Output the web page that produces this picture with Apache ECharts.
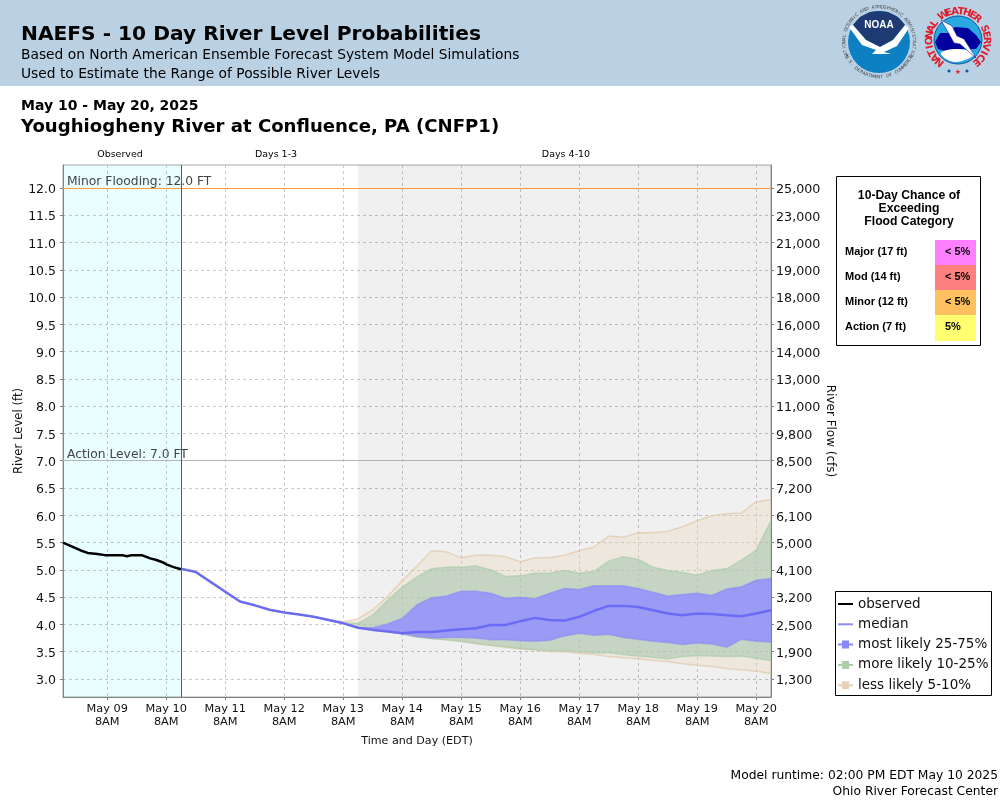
<!DOCTYPE html>
<html>
<head>
<meta charset="utf-8">
<style>html,body{margin:0;padding:0;background:#fff}#chart{width:1000px;height:800px}</style>
<script src="https://cdn.jsdelivr.net/npm/echarts@6/dist/echarts.min.js"></script>
</head>
<body>
<div id="chart"></div>
<script>
var FONT = '"DejaVu Sans"';

// x positions are hours counted from May 8 00:00 EDT
// observed stage
var obsHours = [14, 17.5, 21, 24, 28, 31, 34, 38, 40, 42, 46, 49.5, 52, 55, 56, 59, 62];
var obsStage = [5.50, 5.43, 5.36, 5.31, 5.29, 5.27, 5.27, 5.27, 5.25, 5.27, 5.27, 5.21, 5.18, 5.13, 5.10, 5.05, 5.01];

// forecast, every 6 hours from May 10 2PM
var median = [5.02, 4.96, 4.78, 4.60, 4.42, 4.35, 4.27, 4.22, 4.18, 4.14, 4.08, 4.02,
  3.94, 3.90, 3.87, 3.84, 3.86, 3.86, 3.89, 3.91, 3.93, 3.99, 3.99, 4.06, 4.12, 4.08, 4.07,
  4.14, 4.25, 4.34, 4.34, 4.32, 4.26, 4.20, 4.17, 4.20, 4.19, 4.17, 4.15, 4.20, 4.26];
var p75 = [5.02, 4.96, 4.78, 4.60, 4.42, 4.35, 4.27, 4.22, 4.18, 4.14, 4.08, 4.02,
  3.94, 3.94, 4.01, 4.11, 4.36, 4.49, 4.52, 4.61, 4.61, 4.57, 4.48, 4.50, 4.47, 4.57, 4.66,
  4.64, 4.71, 4.71, 4.71, 4.66, 4.59, 4.52, 4.55, 4.57, 4.53, 4.65, 4.69, 4.81, 4.84];
var p25 = [5.02, 4.96, 4.78, 4.60, 4.42, 4.35, 4.27, 4.22, 4.18, 4.14, 4.08, 4.02,
  3.94, 3.90, 3.87, 3.83, 3.78, 3.75, 3.76, 3.76, 3.75, 3.72, 3.72, 3.70, 3.69, 3.71, 3.79,
  3.84, 3.80, 3.82, 3.76, 3.73, 3.69, 3.67, 3.63, 3.66, 3.64, 3.58, 3.73, 3.69, 3.68];
var p90 = [5.02, 4.96, 4.78, 4.60, 4.42, 4.35, 4.27, 4.22, 4.18, 4.14, 4.08, 4.03,
  4.02, 4.17, 4.44, 4.68, 4.87, 5.02, 5.05, 5.05, 5.07, 5.00, 4.88, 4.89, 4.94, 4.94, 4.99,
  4.94, 4.97, 5.16, 5.24, 5.19, 5.05, 4.99, 4.95, 4.90, 4.99, 5.02, 5.18, 5.36, 5.90];
var p10 = [5.02, 4.96, 4.78, 4.60, 4.42, 4.35, 4.27, 4.22, 4.18, 4.14, 4.08, 4.02,
  3.94, 3.90, 3.87, 3.83, 3.77, 3.74, 3.72, 3.69, 3.65, 3.62, 3.59, 3.56, 3.54, 3.52, 3.52,
  3.50, 3.48, 3.48, 3.45, 3.42, 3.40, 3.37, 3.41, 3.43, 3.42, 3.41, 3.42, 3.38, 3.34];
var p95 = [5.02, 4.96, 4.78, 4.60, 4.42, 4.35, 4.27, 4.22, 4.18, 4.14, 4.09, 4.05,
  4.10, 4.27, 4.51, 4.80, 5.07, 5.35, 5.33, 5.22, 5.27, 5.27, 5.24, 5.15, 5.22, 5.22, 5.27,
  5.35, 5.42, 5.62, 5.60, 5.68, 5.68, 5.71, 5.79, 5.90, 5.99, 6.03, 6.04, 6.25, 6.29];
var p5 = [5.02, 4.96, 4.78, 4.60, 4.42, 4.35, 4.27, 4.22, 4.18, 4.14, 4.08, 4.02,
  3.94, 3.90, 3.87, 3.83, 3.77, 3.74, 3.72, 3.69, 3.65, 3.62, 3.58, 3.55, 3.53, 3.50, 3.50,
  3.47, 3.45, 3.41, 3.39, 3.37, 3.34, 3.32, 3.28, 3.25, 3.23, 3.19, 3.17, 3.14, 3.10];

// stage ticks and the matching flow labels on the right axis
var stageTicks = [3.0, 3.5, 4.0, 4.5, 5.0, 5.5, 6.0, 6.5, 7.0, 7.5, 8.0, 8.5, 9.0, 9.5, 10.0, 10.5, 11.0, 11.5, 12.0];
var flowLabels = ['1,300', '1,900', '2,500', '3,200', '4,100', '5,000', '6,100', '7,200', '8,500', '9,800',
  '11,000', '13,000', '14,000', '16,000', '18,000', '19,000', '21,000', '23,000', '25,000'];

// flood category box
var floodNames = ['Major (17 ft)', 'Mod (14 ft)', 'Minor (12 ft)', 'Action (7 ft)'];
var floodChance = ['< 5%', '< 5%', '< 5%', '5%'];
var floodColors = ['#ff80ff', '#ff8080', '#ffc060', '#ffff70'];

var days = ['May 09', 'May 10', 'May 11', 'May 12', 'May 13', 'May 14', 'May 15', 'May 16', 'May 17', 'May 18', 'May 19', 'May 20'];

var fcTime = median.map(function (v, i) { return 62 + i * 6; });
var xMin = 14, xMax = 302;
var dayTicks = days.map(function (d, i) { return 32 + 24 * i; });

function pairs(arr) {
  return arr.map(function (v, i) { return [fcTime[i], v]; });
}

// one band = a custom polygon between lo and hi, plus a line on each edge
function band(name, lo, hi, fill, edge, legendColor) {
  var rows = lo.map(function (v, i) { return [fcTime[i], v, hi[i]]; });
  return [{
    type: 'custom', name: name + ' area', silent: true, z: 3, data: rows,
    encode: { x: 0, y: [1, 2] },
    renderItem: function (params, api) {
      if (params.dataIndex !== 0) return null;
      var top = rows.map(function (r) { return api.coord([r[0], r[2]]); });
      var bottom = rows.map(function (r) { return api.coord([r[0], r[1]]); }).reverse();
      return { type: 'polygon', shape: { points: top.concat(bottom) }, style: { fill: fill } };
    }
  }, {
    name: name + ' low', type: 'line', data: pairs(lo), symbol: 'none', silent: true,
    lineStyle: { color: edge, width: 1.5 }, z: 4
  }, {
    name: name, type: 'line', data: pairs(hi), symbol: 'none', silent: true,
    lineStyle: { color: edge, width: 1.5 }, itemStyle: { color: legendColor }, z: 4
  }];
}

var series = [{
  name: 'zones', type: 'line', data: [], silent: true,
  markArea: {
    silent: true,
    data: [
      [{ xAxis: xMin, itemStyle: { color: 'rgba(0,255,255,0.085)' } }, { xAxis: 62 }],
      [{ xAxis: 134, itemStyle: { color: 'rgba(0,0,0,0.06)' } }, { xAxis: xMax }]
    ]
  },
  markLine: {
    silent: true, symbol: 'none', animation: false,
    data: [
      { yAxis: 12, lineStyle: { color: '#ff9933', type: 'solid', width: 1 },
        label: { formatter: 'Minor Flooding: 12.0 FT', position: 'insideStartTop', distance: [4, 0], color: '#444', fontFamily: FONT, fontSize: 12.3 } },
      { yAxis: 7, lineStyle: { color: '#b4b4b4', type: 'solid', width: 1 },
        label: { formatter: 'Action Level: 7.0 FT', position: 'insideStartTop', distance: [4, 0], color: '#444', fontFamily: FONT, fontSize: 12.3 } },
      { xAxis: 62, lineStyle: { color: '#b83038', type: 'solid', width: 1 }, label: { show: false } }
    ]
  }
}];
series = series.concat(band('less likely 5-10%', p5, p95, 'rgba(235,218,195,0.4)', 'rgba(225,200,170,0.7)', '#e6d2ba'));
series = series.concat(band('more likely 10-25%', p10, p90, 'rgba(158,195,168,0.5)', 'rgba(170,205,170,0.7)', '#a9d0a9'));
series = series.concat(band('most likely 25-75%', p25, p75, 'rgba(147,145,255,0.85)', 'rgba(130,130,250,0.5)', '#8888f8'));
series.push({
  name: 'median', type: 'line', data: pairs(median), symbol: 'none', z: 5, silent: true,
  lineStyle: { color: 'rgba(95,95,245,0.8)', width: 2.5 }, itemStyle: { color: '#8c8cf6' }
});
series.push({
  name: 'observed', type: 'line', symbol: 'none', z: 6, silent: true,
  data: obsHours.map(function (h, i) { return [h, obsStage[i]]; }),
  lineStyle: { color: '#000', width: 2.5 }, itemStyle: { color: '#000' }
});

// ---- page text and logos ----
function txt(x, y, s, size, weight, align, fill, family) {
  return {
    type: 'text', x: x, y: y, z: 20,
    style: { text: s, font: (weight || 'normal') + ' ' + size + 'px ' + (family || FONT), fill: fill || '#000', textAlign: align || 'left', textVerticalAlign: 'middle' }
  };
}
// letters set round a circle, from angle a0 in steps (radians, 0 = up, clockwise)
function arcText(cx, cy, r, s, a0, step, size, fill, weight, inward) {
  var out = [];
  for (var i = 0; i < s.length; i++) {
    var a = a0 + i * step;
    var el = txt(cx + r * Math.sin(a), cy - r * Math.cos(a), s.charAt(i), size, weight, 'center', fill);
    el.rotation = inward ? -a + Math.PI : -a;
    out.push(el);
  }
  return out;
}
function poly(points, fill, z, smooth, stroke) {
  return { type: 'polygon', z: z, shape: { points: points, smooth: smooth || 0 }, style: { fill: fill, stroke: stroke || null, lineWidth: 0.5 } };
}

var g = [
  { type: 'rect', shape: { x: 0, y: 0, width: 1000, height: 86 }, style: { fill: '#bad1e4' }, z: 1 },
  txt(21, 34.5, 'NAEFS - 10 Day River Level Probabilities', 20.2, 'bold'),
  txt(21, 55, 'Based on North American Ensemble Forecast System Model Simulations', 13.8),
  txt(21, 74, 'Used to Estimate the Range of Possible River Levels', 13.8),
  txt(21, 106, 'May 10 - May 20, 2025', 14, 'bold'),
  txt(21, 127, 'Youghiogheny River at Confluence, PA (CNFP1)', 18.1, 'bold'),
  txt(120, 155, 'Observed', 9.5, 'normal', 'center'),
  txt(276, 155, 'Days 1-3', 9.5, 'normal', 'center'),
  txt(566, 155, 'Days 4-10', 9.5, 'normal', 'center'),
  txt(998, 776, 'Model runtime: 02:00 PM EDT May 10 2025', 12.3, 'normal', 'right'),
  txt(998, 792, 'Ohio River Forecast Center', 12.3, 'normal', 'right'),

  // NOAA logo
  { type: 'circle', shape: { cx: 879, cy: 42, r: 31 }, style: { fill: '#0d80c4' }, z: 3 },
  poly([[853, 25], [860, 17], [870, 12], [879, 11], [888, 12], [898, 17], [905, 25], [893, 40], [880, 47], [866, 40]], '#1d3a72', 4),
  poly([[849, 27], [853, 25], [866, 40], [880, 47], [893, 40], [905, 25], [909, 28], [897, 46], [884, 52], [891, 54], [872, 54], [876, 50], [862, 45]], '#fff', 5),
  txt(879, 25, 'NOAA', 10, 'bold', 'center', '#fff', '"Liberation Sans"'),

  // NWS logo
  { type: 'circle', shape: { cx: 958, cy: 40, r: 24 }, style: { fill: '#29a9e0', stroke: '#1d4fa0', lineWidth: 1 }, z: 3 },
  poly([[935, 42], [940, 33], [948, 33], [955, 27], [968, 28], [976, 35], [981, 42], [976, 49], [960, 49], [948, 52], [938, 49]], '#00009c', 4),
  poly([[941, 53], [958, 49], [974, 54], [962, 61], [950, 61]], '#fff', 4, 0.4),
  poly([[941, 20], [952, 26], [957, 36], [964, 39], [976, 58], [960, 44], [954, 43], [948, 32]], '#fff', 5, 0, '#00009c'),
  txt(949, 71, '●', 4, 'normal', 'center', '#1d4fa0'),
  txt(958, 72, '★', 7, 'normal', 'center', '#e21c2c'),
  txt(967, 71, '●', 4, 'normal', 'center', '#1d4fa0'),

  // flood category box
  { type: 'rect', shape: { x: 836.5, y: 176.5, width: 144, height: 169 }, style: { fill: '#fff', stroke: '#000', lineWidth: 1 }, z: 10 },
  txt(909, 196, '10-Day Chance of', 12.2, 'bold', 'center', '#000', '"Liberation Sans"'),
  txt(909, 209, 'Exceeding', 12.2, 'bold', 'center', '#000', '"Liberation Sans"'),
  txt(909, 222, 'Flood Category', 12.2, 'bold', 'center', '#000', '"Liberation Sans"'),

  // legend frame
  { type: 'rect', shape: { x: 835.5, y: 591.5, width: 156, height: 104 }, style: { fill: 'transparent', stroke: '#000', lineWidth: 1 }, z: 2 }
];
g = g.concat(arcText(879, 42, 35, 'NATIONAL OCEANIC AND ATMOSPHERIC ADMINISTRATION', -2.0, 0.087, 4.6, '#444'));
g = g.concat(arcText(879, 42, 35, 'U.S. DEPARTMENT OF COMMERCE', Math.PI + 1.15, -0.088, 4.6, '#444', 'normal', true));
g = g.concat(arcText(958, 40, 28.5, 'NATIONAL WEATHER SERVICE', -2.45, 0.213, 10, '#e21c2c', 'bold'));
floodNames.forEach(function (n, i) {
  g.push({ type: 'rect', shape: { x: 935, y: 240 + i * 25, width: 41, height: i == 3 ? 26 : 25 }, style: { fill: floodColors[i] }, z: 11 });
  g.push(txt(845, 252 + i * 25, n, 11, 'bold', 'left', '#000', '"Liberation Sans"'));
  g.push(txt(945, 252 + i * 25, floodChance[i], 11, 'bold', 'left', '#000', '"Liberation Sans"'));
});

// legend icons: plain stroke, and stroke with a small square on it
var ICON_LINE = 'path://M0 0L0 0M15 12L15 12M0 5L15 5L15 7L0 7Z';
var ICON_BAND = 'path://M0 0L0 0M15 12L15 12M0 5L4 5L4 2L11 2L11 5L15 5L15 7L11 7L11 10L4 10L4 7L0 7Z';

var chart = echarts.init(document.getElementById('chart'), null, { renderer: 'canvas' });
var gridDash = { show: true, lineStyle: { color: '#c8c8c8', type: [3, 3], width: 1 } };
var option = {
  animation: false,
  backgroundColor: '#fff',
  grid: { left: 63, top: 165, width: 708, height: 532, show: true, borderColor: '#a8a8a8', borderWidth: 1, outerBoundsMode: 'none' },
  legend: {
    left: 838, top: 597, orient: 'vertical', padding: 0,
    itemWidth: 15, itemHeight: 12, itemGap: 6.3, selectedMode: false, symbolKeepAspect: false,
    textStyle: { fontFamily: FONT, fontSize: 13.5, color: '#111' },
    data: [
      { name: 'observed', icon: ICON_LINE },
      { name: 'median', icon: ICON_LINE },
      { name: 'most likely 25-75%', icon: ICON_BAND },
      { name: 'more likely 10-25%', icon: ICON_BAND },
      { name: 'less likely 5-10%', icon: ICON_BAND }
    ]
  },
  xAxis: {
    type: 'value', min: xMin, max: xMax,
    name: 'Time and Day (EDT)', nameLocation: 'middle', nameGap: 39, nameMoveOverlap: false,
    nameTextStyle: { fontFamily: FONT, fontSize: 11.1, color: '#111' },
    axisLine: { show: true, lineStyle: { color: '#808080' } },
    axisTick: { show: true, customValues: dayTicks, length: 3, lineStyle: { color: '#808080' } },
    axisLabel: {
      customValues: dayTicks, fontFamily: FONT, fontSize: 11.3, color: '#111', lineHeight: 13, margin: 6, hideOverlap: false,
      formatter: function (v) { return days[dayTicks.indexOf(v)] + '\n8AM'; }
    },
    splitLine: gridDash
  },
  yAxis: [{
    type: 'value', min: 2.67, max: 12.42,
    name: 'River Level (ft)', nameLocation: 'middle', nameGap: 38, nameMoveOverlap: false,
    nameTextStyle: { fontFamily: FONT, fontSize: 11.7, color: '#111' },
    axisLine: { show: true, lineStyle: { color: '#808080' } },
    axisTick: { show: true, customValues: stageTicks, length: 3, lineStyle: { color: '#808080' } },
    axisLabel: { customValues: stageTicks, margin: 7,
      rich: { a: { fontFamily: FONT, fontSize: 12.5, color: '#111', padding: [4, 0, 0, 0] } },
      formatter: function (v) { return '{a|' + v.toFixed(1) + '}'; } },
    splitLine: gridDash
  }, {
    type: 'value', min: 2.67, max: 12.42, position: 'right',
    name: 'River Flow (cfs)', nameLocation: 'middle', nameGap: 53, nameRotate: -90, nameMoveOverlap: false,
    nameTextStyle: { fontFamily: FONT, fontSize: 12, color: '#111' },
    axisLine: { show: true, lineStyle: { color: '#808080' } },
    axisTick: { show: true, customValues: stageTicks, length: 3, lineStyle: { color: '#808080' } },
    axisLabel: { customValues: stageTicks, margin: 5,
      rich: { a: { fontFamily: FONT, fontSize: 12.7, color: '#111', padding: [4, 0, 0, 0] } },
      formatter: function (v) { return '{a|' + flowLabels[stageTicks.indexOf(v)] + '}'; } },
    splitLine: { show: false }
  }],
  series: series,
  graphic: g
};
chart.setOption(option);
</script>
</body>
</html>
